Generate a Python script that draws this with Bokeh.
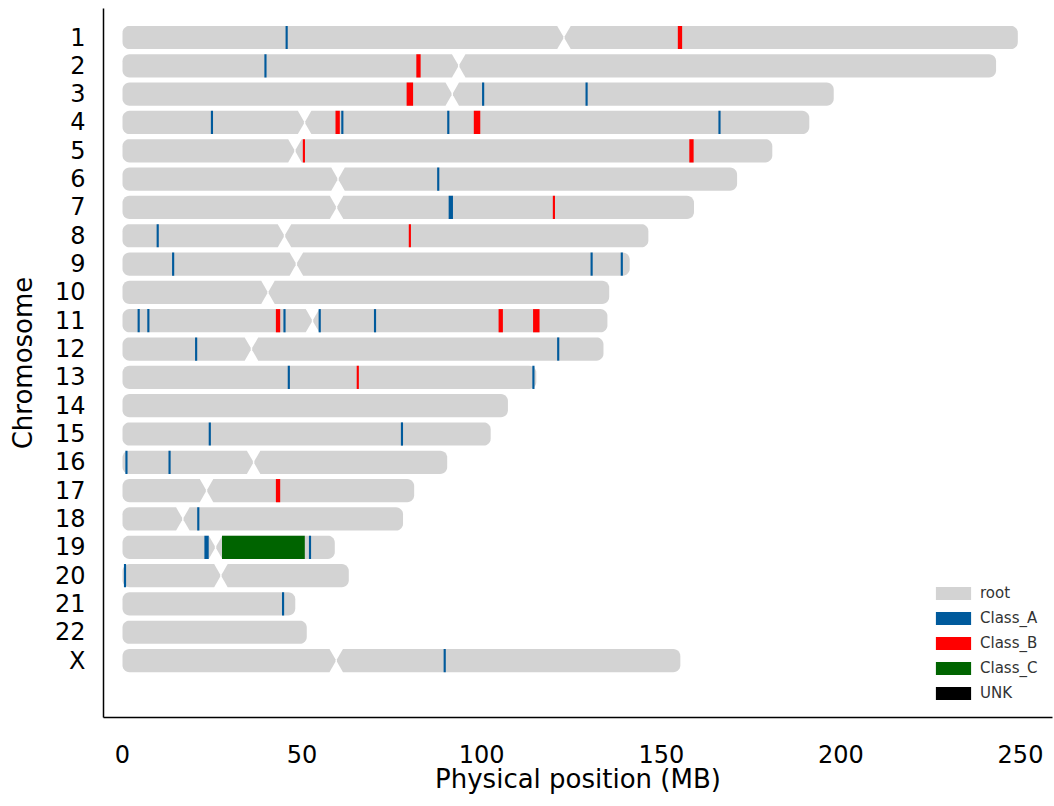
import numpy as np
from bokeh.plotting import figure
from bokeh.models import ColumnDataSource, Range1d, FixedTicker, Legend, LegendItem
from bokeh.embed import file_html
from bokeh.resources import INLINE

# ---------------- data ----------------
chrom_names = ["1", "2", "3", "4", "5", "6", "7", "8", "9", "10", "11", "12",
               "13", "14", "15", "16", "17", "18", "19", "20", "21", "22", "X"]
chrom_length = [249.25, 243.2, 198.0, 191.2, 180.9, 171.1, 159.1, 146.4, 141.2, 135.5,
                135.0, 133.9, 115.2, 107.3, 102.5, 90.4, 81.2, 78.1, 59.1, 63.0,
                48.1, 51.3, 155.3]
# centromere position (MB); None = drawn without a centromere notch
chrom_centromere = [122.9, 93.6, 91.8, 50.7, 48.0, 60.0, 59.6, 45.1, 48.4, 40.5,
                    52.9, 35.9, None, None, None, 36.5, 23.4, 16.8, 25.9, 27.4,
                    None, None, 59.5]

feat_chrom = ["1", "1",
              "2", "2",
              "3", "3", "3",
              "4", "4", "4", "4", "4", "4",
              "5", "5",
              "6",
              "7", "7",
              "8", "8",
              "9", "9", "9",
              "11", "11", "11", "11", "11", "11", "11", "11",
              "12", "12",
              "13", "13", "13",
              "15", "15",
              "16", "16",
              "17",
              "18",
              "19", "19", "19",
              "20",
              "21",
              "X"]
feat_start = [45.4, 154.6,
              39.5, 81.8,
              79.1, 100.1, 128.9,
              24.6, 59.3, 60.9, 90.4, 97.8, 165.9,
              50.2, 157.8,
              87.6,
              90.8, 119.8,
              9.5, 79.7,
              13.8, 130.3, 138.7,
              4.2, 6.9, 42.7, 44.8, 54.6, 70.0, 104.7, 114.3,
              20.2, 121.0,
              46.0, 65.2, 114.1,
              24.0, 77.5,
              0.8, 12.8,
              42.7,
              20.8,
              22.8, 27.7, 51.9,
              0.4,
              44.4,
              89.4]
feat_end = [46.0, 155.8,
            40.1, 83.0,
            80.9, 100.7, 129.5,
            25.2, 60.5, 61.5, 91.0, 99.6, 166.5,
            50.8, 159.0,
            88.2,
            92.0, 120.4,
            10.1, 80.3,
            14.4, 130.9, 139.3,
            4.8, 7.5, 43.9, 45.4, 55.2, 70.6, 105.9, 116.1,
            20.8, 121.6,
            46.6, 65.8, 114.7,
            24.6, 78.1,
            1.4, 13.4,
            43.9,
            21.4,
            24.0, 50.75, 52.5,
            1.0,
            45.0,
            90.0]
feat_class = ["Class_A", "Class_B",
              "Class_A", "Class_B",
              "Class_B", "Class_A", "Class_A",
              "Class_A", "Class_B", "Class_A", "Class_A", "Class_B", "Class_A",
              "Class_B", "Class_B",
              "Class_A",
              "Class_A", "Class_B",
              "Class_A", "Class_B",
              "Class_A", "Class_A", "Class_A",
              "Class_A", "Class_A", "Class_B", "Class_A", "Class_A", "Class_A", "Class_B", "Class_B",
              "Class_A", "Class_A",
              "Class_A", "Class_B", "Class_A",
              "Class_A", "Class_A",
              "Class_A", "Class_A",
              "Class_B",
              "Class_A",
              "Class_A", "Class_C", "Class_A",
              "Class_A",
              "Class_A",
              "Class_A"]

class_names = ["root", "Class_A", "Class_B", "Class_C", "UNK"]
class_colors = ["#d3d3d3", "#005a9c", "#ff0000", "#006400", "#000000"]

x_ticks = [0, 50, 100, 150, 200, 250]

# ---------------- layout ----------------
W, H = 1054, 800
LEFT, RIGHT, TOP, BOTTOM = 103, 2, 8, 83
x_start = -5.29
px_x = 3.592
x_end = x_start + (W - LEFT - RIGHT) / px_x
y_top, y_bottom = -1.024, 24.01
px_y = (H - TOP - BOTTOM) / (y_bottom - y_top)
BAR_H = 0.82
FONT = "DejaVu Sans"

row_of = {n: i for i, n in enumerate(chrom_names)}


def arm(x0, x1, yc, left_kind, right_kind):
    h2 = BAR_H / 2
    rx, ry = 7 / px_x, 7 / px_y
    taper, flat = 6 / px_x, 1.2 / px_y
    xs, ys = [], []
    if right_kind == "round":
        for cy, t0, t1 in [(yc - h2 + ry, -90, 0), (yc + h2 - ry, 0, 90)]:
            for t in np.linspace(np.radians(t0), np.radians(t1), 8):
                xs.append(x1 - rx + rx * np.cos(t))
                ys.append(cy + ry * np.sin(t))
    else:
        xs += [x1 - taper, x1, x1, x1 - taper]
        ys += [yc - h2, yc - flat, yc + flat, yc + h2]
    if left_kind == "round":
        for cy, t0, t1 in [(yc + h2 - ry, 90, 180), (yc - h2 + ry, 180, 270)]:
            for t in np.linspace(np.radians(t0), np.radians(t1), 8):
                xs.append(x0 + rx + rx * np.cos(t))
                ys.append(cy + ry * np.sin(t))
    else:
        xs += [x0 + taper, x0, x0, x0 + taper]
        ys += [yc + h2, yc + flat, yc - flat, yc - h2]
    return list(xs), list(ys)


arm_xs, arm_ys = [], []
gap = 1.5 / px_x
for i, (L, c) in enumerate(zip(chrom_length, chrom_centromere)):
    if c is None:
        a = arm(0, L, i, "round", "round")
        arm_xs.append(a[0]); arm_ys.append(a[1])
    else:
        a = arm(0, c - gap / 2, i, "round", "cen")
        b = arm(c + gap / 2, L, i, "cen", "round")
        arm_xs += [a[0], b[0]]
        arm_ys += [a[1], b[1]]

p = figure(width=W, height=H, output_backend="svg", toolbar_location=None,
           x_range=Range1d(x_start, x_end), y_range=Range1d(y_bottom, y_top),
           min_border_left=LEFT, min_border_right=RIGHT,
           min_border_top=TOP, min_border_bottom=BOTTOM)
p.outline_line_color = None
p.xgrid.visible = False
p.ygrid.visible = False
p.background_fill_color = "white"

root_r = p.patches(xs=arm_xs, ys=arm_ys, fill_color=class_colors[0], line_color=None)

renderers = {"root": root_r}
for cname, col in zip(class_names[1:], class_colors[1:]):
    idx = [k for k, c in enumerate(feat_class) if c == cname]
    data = dict(
        left=[feat_start[k] for k in idx],
        right=[feat_end[k] for k in idx],
        top=[row_of[feat_chrom[k]] - BAR_H / 2 for k in idx],
        bottom=[row_of[feat_chrom[k]] + BAR_H / 2 for k in idx],
    )
    if not idx:  # class without features: keep one empty (NaN) row so the legend swatch shows
        data = dict(left=[np.nan], right=[np.nan], top=[np.nan], bottom=[np.nan])
    renderers[cname] = p.quad(left="left", right="right", top="top", bottom="bottom",
                              source=ColumnDataSource(data), fill_color=col, line_color=None)

# axes
p.xaxis.ticker = FixedTicker(ticks=x_ticks)
p.yaxis.ticker = FixedTicker(ticks=list(range(len(chrom_names))))
p.yaxis.major_label_overrides = {i: n for i, n in enumerate(chrom_names)}
for ax in (p.xaxis[0], p.yaxis[0]):
    ax.axis_line_color = "black"
    ax.axis_line_width = 1.5
    ax.major_tick_line_color = None
    ax.minor_tick_line_color = None
    ax.major_tick_out = 0
    ax.major_tick_in = 0
    ax.minor_tick_out = 0
    ax.minor_tick_in = 0
    ax.major_label_text_font = FONT
    ax.major_label_text_font_size = "24px"
    ax.major_label_text_color = "black"
    ax.axis_label_text_font = FONT
    ax.axis_label_text_font_size = "26px"
    ax.axis_label_text_font_style = "normal"
    ax.axis_label_text_color = "black"
p.xaxis.axis_label = "Physical position (MB)"
p.yaxis.axis_label = "Chromosome"
p.xaxis.major_label_standoff = 27
p.xaxis.axis_label_standoff = -2
p.yaxis.major_label_standoff = 18
p.yaxis.axis_label_standoff = 14

legend = Legend(items=[LegendItem(label=n, renderers=[renderers[n]]) for n in class_names],
                location=(828, 15))
legend.glyph_width = 44
legend.glyph_height = 16
legend.label_height = 18
legend.label_standoff = 5
legend.spacing = 7
legend.padding = 0
legend.margin = 0
legend.border_line_alpha = 0
legend.background_fill_alpha = 0
legend.label_text_font = FONT
legend.label_text_font_size = "15px"
legend.label_text_color = "#333333"
p.add_layout(legend)

open("out.html", "w").write(file_html(p, INLINE))
